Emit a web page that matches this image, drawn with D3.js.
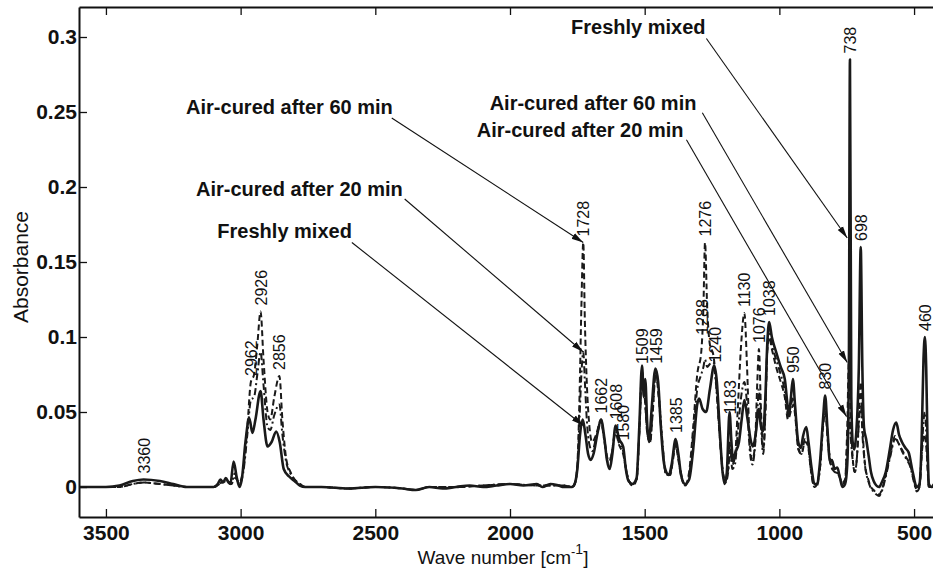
<!DOCTYPE html>
<html>
<head>
<meta charset="utf-8">
<script src="https://cdn.jsdelivr.net/npm/d3@7"></script>
<style>
  body { margin: 0; background: #fff; }
  text { font-family: "Liberation Sans", Arial, sans-serif; fill: #111; }
</style>
</head>
<body>
<svg id="chart" width="933" height="571"></svg>
<script>
// FTIR spectra: [wave number (cm^-1), absorbance]
const freshlyMixed = [
  [3600,0.000],[3550,0.000],[3500,0.000],[3450,0.001],[3400,0.004],[3360,0.005],[3300,0.004],[3250,0.002],
  [3200,0.000],[3150,0.000],[3100,0.000],[3085,0.002],[3075,0.005],[3065,0.003],[3055,0.006],[3045,0.003],
  [3038,0.002],[3026,0.017],[3014,0.006],[3004,0.000],[2995,0.006],[2982,0.030],[2968,0.046],[2956,0.036],
  [2945,0.045],[2926,0.064],[2915,0.045],[2900,0.027],[2885,0.030],[2868,0.037],[2855,0.030],[2840,0.012],
  [2820,0.007],[2800,0.004],[2780,0.001],[2760,0.000],[2700,0.000],[2600,-0.001],[2500,0.000],[2400,-0.001],
  [2350,-0.002],[2300,0.000],[2250,-0.001],[2200,0.000],[2150,0.001],[2100,0.000],[2050,0.001],[2000,0.002],
  [1950,0.001],[1900,0.002],[1880,0.000],[1850,0.002],[1820,0.001],[1800,0.000],[1770,0.000],[1760,0.002],
  [1750,0.012],[1740,0.035],[1730,0.045],[1720,0.035],[1710,0.022],[1700,0.018],[1690,0.022],[1675,0.036],
  [1662,0.045],[1650,0.033],[1640,0.018],[1630,0.012],[1620,0.022],[1608,0.041],[1595,0.032],[1580,0.027],
  [1570,0.012],[1560,0.004],[1545,0.002],[1530,0.006],[1520,0.040],[1510,0.081],[1503,0.060],[1498,0.072],
  [1490,0.040],[1484,0.030],[1475,0.050],[1460,0.079],[1450,0.070],[1440,0.040],[1430,0.018],[1420,0.010],
  [1410,0.008],[1400,0.015],[1385,0.032],[1375,0.022],[1365,0.008],[1350,0.002],[1335,0.005],[1320,0.025],
  [1305,0.055],[1298,0.059],[1285,0.052],[1272,0.050],[1258,0.065],[1242,0.081],[1232,0.070],[1222,0.040],
  [1212,0.012],[1203,0.002],[1195,0.010],[1185,0.050],[1178,0.030],[1172,0.017],[1165,0.022],[1150,0.030],
  [1140,0.045],[1130,0.058],[1118,0.045],[1105,0.030],[1098,0.027],[1088,0.035],[1077,0.052],[1068,0.040],
  [1061,0.037],[1052,0.060],[1045,0.095],[1038,0.110],[1028,0.100],[1012,0.090],[995,0.080],[980,0.072],
  [970,0.055],[965,0.047],[958,0.058],[950,0.072],[942,0.055],[930,0.030],[920,0.026],[912,0.034],
  [900,0.040],[892,0.030],[880,0.012],[870,0.002],[862,0.002],[850,0.015],[838,0.045],[830,0.061],
  [822,0.040],[812,0.017],[805,0.018],[795,0.012],[785,0.013],[775,0.006],[766,0.000],[756,0.002],
  [748,0.015],[742,0.080],[738,0.285],[733,0.060],[728,0.030],[722,0.025],[715,0.035],[705,0.080],
  [698,0.160],[692,0.080],[686,0.040],[678,0.032],[668,0.020],[660,0.010],[650,0.004],[640,0.001],
  [630,0.000],[620,0.003],[605,0.010],[590,0.025],[578,0.038],[566,0.043],[556,0.035],[545,0.030],
  [532,0.026],[520,0.023],[505,0.010],[490,0.000],[480,0.002],[472,0.030],[465,0.085],[460,0.100],
  [455,0.080],[450,0.030],[445,0.002],[435,0.000],[420,0.003],[400,0.000]
];

const airCured20 = [
  [3600,0.000],[3500,0.000],[3450,0.000],[3400,0.002],[3360,0.003],[3300,0.002],[3250,0.001],[3200,0.000],
  [3100,0.000],[3070,0.003],[3050,0.004],[3035,0.002],[3022,0.009],[3005,0.002],[2990,0.010],[2975,0.035],
  [2962,0.058],[2950,0.060],[2938,0.075],[2926,0.090],[2915,0.068],[2900,0.040],[2890,0.038],[2875,0.048],
  [2856,0.055],[2845,0.035],[2830,0.016],[2815,0.009],[2800,0.005],[2780,0.002],[2760,0.000],[2700,0.000],
  [2600,-0.001],[2500,0.000],[2400,-0.001],[2350,-0.002],[2300,0.000],[2200,0.000],[2100,0.001],[2000,0.002],
  [1900,0.001],[1800,0.001],[1770,0.000],[1760,0.002],[1750,0.013],[1742,0.045],[1735,0.075],[1728,0.090],
  [1722,0.070],[1715,0.045],[1705,0.028],[1695,0.024],[1680,0.033],[1662,0.043],[1650,0.031],[1635,0.016],
  [1625,0.020],[1608,0.037],[1595,0.029],[1580,0.024],[1565,0.008],[1545,0.001],[1530,0.005],[1520,0.036],
  [1510,0.077],[1500,0.062],[1490,0.036],[1480,0.030],[1470,0.052],[1459,0.077],[1448,0.062],[1435,0.032],
  [1420,0.008],[1405,0.009],[1395,0.020],[1385,0.030],[1375,0.020],[1360,0.005],[1350,0.001],[1335,0.008],
  [1320,0.035],[1305,0.065],[1290,0.075],[1282,0.080],[1276,0.085],[1268,0.080],[1258,0.082],[1245,0.083],
  [1235,0.068],[1222,0.036],[1210,0.010],[1200,0.003],[1190,0.010],[1183,0.030],[1175,0.012],[1165,0.015],
  [1155,0.035],[1142,0.060],[1130,0.070],[1120,0.055],[1110,0.025],[1100,0.015],[1090,0.028],[1082,0.050],
  [1076,0.065],[1068,0.040],[1060,0.022],[1052,0.050],[1045,0.092],[1038,0.105],[1028,0.095],[1012,0.085],
  [995,0.075],[980,0.064],[968,0.048],[955,0.056],[948,0.060],[940,0.048],[930,0.027],[918,0.022],
  [905,0.032],[895,0.030],[882,0.010],[870,0.000],[860,0.001],[848,0.015],[838,0.042],[830,0.055],
  [820,0.033],[810,0.016],[795,0.010],[780,0.009],[766,0.002],[756,0.004],[748,0.030],[742,0.047],
  [736,0.035],[728,0.018],[720,0.010],[712,0.020],[704,0.045],[698,0.055],[690,0.030],[682,0.014],
  [670,0.004],[660,-0.001],[650,-0.003],[640,-0.005],[630,-0.006],[620,-0.003],[605,0.007],[590,0.019],
  [570,0.032],[560,0.030],[545,0.024],[530,0.019],[515,0.014],[500,0.003],[490,-0.003],[480,0.000],
  [470,0.030],[460,0.050],[452,0.025],[445,0.000],[420,0.000],[400,0.000]
];

const airCured60 = [
  [3600,0.000],[3500,0.000],[3450,0.000],[3400,0.002],[3360,0.003],[3300,0.002],[3250,0.001],[3200,0.000],
  [3100,0.000],[3070,0.003],[3050,0.004],[3035,0.002],[3020,0.006],[3005,0.003],[2990,0.012],[2975,0.040],
  [2962,0.070],[2950,0.075],[2938,0.095],[2926,0.117],[2915,0.085],[2900,0.050],[2890,0.045],[2875,0.060],
  [2856,0.074],[2845,0.045],[2830,0.018],[2815,0.010],[2800,0.005],[2780,0.002],[2760,0.000],[2700,0.000],
  [2600,-0.001],[2500,0.000],[2400,-0.001],[2350,-0.002],[2300,0.000],[2200,0.000],[2100,0.001],[2000,0.002],
  [1900,0.001],[1800,0.001],[1770,0.000],[1760,0.002],[1750,0.015],[1742,0.060],[1735,0.120],[1728,0.163],
  [1722,0.110],[1715,0.070],[1705,0.040],[1695,0.030],[1680,0.035],[1662,0.045],[1650,0.032],[1635,0.018],
  [1625,0.020],[1608,0.036],[1595,0.028],[1580,0.022],[1565,0.008],[1545,0.001],[1530,0.005],[1520,0.035],
  [1510,0.075],[1500,0.060],[1490,0.035],[1480,0.030],[1470,0.050],[1459,0.076],[1448,0.060],[1435,0.030],
  [1420,0.008],[1405,0.008],[1395,0.018],[1385,0.028],[1375,0.018],[1360,0.004],[1350,0.001],[1335,0.010],
  [1320,0.040],[1305,0.075],[1290,0.090],[1282,0.120],[1276,0.163],[1268,0.120],[1258,0.095],[1245,0.088],
  [1235,0.070],[1222,0.035],[1210,0.010],[1200,0.004],[1190,0.012],[1183,0.025],[1175,0.015],[1165,0.020],
  [1155,0.050],[1142,0.095],[1130,0.116],[1120,0.080],[1110,0.030],[1100,0.018],[1090,0.030],[1082,0.070],
  [1076,0.092],[1068,0.050],[1060,0.025],[1052,0.050],[1045,0.090],[1038,0.100],[1028,0.092],[1012,0.080],
  [995,0.070],[980,0.060],[968,0.045],[955,0.052],[948,0.055],[940,0.045],[930,0.025],[918,0.022],
  [905,0.030],[895,0.028],[882,0.010],[870,0.000],[860,0.002],[848,0.015],[838,0.040],[830,0.050],
  [820,0.030],[810,0.015],[795,0.010],[780,0.008],[766,0.003],[756,0.005],[748,0.040],[742,0.083],
  [736,0.050],[728,0.020],[720,0.010],[712,0.020],[704,0.050],[698,0.070],[690,0.035],[682,0.015],
  [670,0.005],[660,0.000],[650,-0.002],[640,-0.004],[630,-0.005],[620,-0.002],[605,0.008],[590,0.020],
  [570,0.034],[560,0.030],[545,0.025],[530,0.020],[515,0.015],[500,0.004],[490,-0.002],[480,0.000],
  [470,0.025],[460,0.035],[452,0.020],[445,0.000],[420,0.000],[400,0.000]
];

const xTicks = [3500, 3000, 2500, 2000, 1500, 1000, 500];
const yTicks = [0, 0.05, 0.1, 0.15, 0.2, 0.25, 0.3];
const yTickLabels = ["0", "0.05", "0.1", "0.15", "0.2", "0.25", "0.3"];

// Wave numbers marked on the spectra
const peakLabels = [3360, 2962, 2926, 2856, 1728, 1662, 1608, 1580, 1509, 1459, 1385,
                    1288, 1276, 1240, 1183, 1130, 1076, 1038, 950, 830, 738, 698, 460];

// Callouts: text anchored (end) at [wave number, absorbance], arrow into the spectrum
const calloutTexts   = ["Air-cured after 60 min", "Air-cured after 20 min", "Freshly mixed",
                        "Freshly mixed", "Air-cured after 60 min", "Air-cured after 20 min"];
const calloutAnchors = [[2435, 0.249], [2398, 0.194], [2587, 0.166],
                        [1274, 0.302], [1308, 0.2515], [1356, 0.2335]];
const calloutStarts  = [[2439, 0.246], [2391, 0.192], [2587, 0.163],
                        [1271, 0.299], [1286, 0.2495], [1345, 0.2315]];
const calloutTargets = [[1728, 0.163], [1728, 0.090], [1728, 0.041],
                        [748, 0.166], [748, 0.083], [751, 0.047]];

const svg = d3.select("#chart");
const plot = { left: 79, right: 941, top: 7, bottom: 517 };

const x = d3.scaleLinear().domain([3600, 400]).range([plot.left, plot.right]);
const y = d3.scaleLinear().domain([-0.02, 0.32]).range([plot.bottom, plot.top]);

const defs = svg.append("defs");
defs.append("clipPath").attr("id", "plotClip")
  .append("rect")
  .attr("x", plot.left).attr("y", plot.top)
  .attr("width", plot.right - plot.left).attr("height", plot.bottom - plot.top);

defs.append("marker")
  .attr("id", "arrowHead")
  .attr("viewBox", "0 0 12 8")
  .attr("refX", 12).attr("refY", 4)
  .attr("markerWidth", 12).attr("markerHeight", 8)
  .attr("markerUnits", "userSpaceOnUse")
  .attr("orient", "auto")
  .append("path").attr("d", "M0,0.8 L12,4 L0,7.2 Z").attr("fill", "#111");

// Spectra
const line = d3.line()
  .x(d => x(d[0]))
  .y(d => y(d[1]))
  .curve(d3.curveMonotoneX);

const seriesList = [
  { data: airCured20, dash: "7,3,2,3", width: 2.0 },
  { data: airCured60, dash: "6,3.5", width: 2.0 },
  { data: freshlyMixed, dash: null, width: 2.6 }
];

const lines = svg.append("g").attr("clip-path", "url(#plotClip)");
seriesList.forEach(s => {
  lines.append("path")
    .datum(s.data)
    .attr("d", line)
    .attr("fill", "none")
    .attr("stroke", "#1a1a1a")
    .attr("stroke-width", s.width)
    .attr("stroke-linejoin", "round")
    .attr("stroke-dasharray", s.dash);
});

// Axes (inward ticks, boxed frame)
const xAxis = d3.axisBottom(x).tickValues(xTicks).tickFormat(d3.format("d"))
  .tickSizeInner(-8).tickSizeOuter(0).tickPadding(8);
const xAxisTop = d3.axisTop(x).tickValues(xTicks).tickFormat("")
  .tickSizeInner(-8).tickSizeOuter(0);
const yAxis = d3.axisLeft(y).tickValues(yTicks).tickFormat((d, i) => yTickLabels[i])
  .tickSizeInner(-8).tickSizeOuter(0).tickPadding(2);

const gx = svg.append("g").attr("transform", `translate(0,${plot.bottom})`).call(xAxis);
const gxt = svg.append("g").attr("transform", `translate(0,${plot.top})`).call(xAxisTop);
const gy = svg.append("g").attr("transform", `translate(${plot.left},0)`).call(yAxis);

[gx, gxt, gy].forEach(g => {
  g.select(".domain").attr("stroke", "#111").attr("stroke-width", 2);
  g.selectAll(".tick line").attr("stroke", "#111").attr("stroke-width", 1.3);
  g.selectAll(".tick text")
    .attr("fill", "#111")
    .style("font-family", "'Liberation Sans', Arial, sans-serif")
    .style("font-size", "21px")
    .style("font-weight", "bold");
});

// Axis titles
svg.append("text")
  .attr("x", 503).attr("y", 564)
  .attr("text-anchor", "middle")
  .style("font-size", "19px")
  .html('Wave number [cm<tspan dy="-8" font-size="13px">-</tspan><tspan dy="-2" font-size="14px">1</tspan><tspan dy="10">]</tspan>');

svg.append("text")
  .attr("transform", `translate(28,${(plot.top + plot.bottom) / 2 + 5}) rotate(-90)`)
  .attr("text-anchor", "middle")
  .style("font-size", "21px")
  .text("Absorbance");

// Peak labels, placed just above the highest spectrum at each wave number
function valueAt(series, w) {
  for (let i = 0; i < series.length - 1; i++) {
    const a = series[i], b = series[i + 1];
    if (w <= a[0] && w >= b[0]) {
      const t = (a[0] - w) / (a[0] - b[0]);
      return a[1] + t * (b[1] - a[1]);
    }
  }
  return 0;
}
const allSeries = [freshlyMixed, airCured20, airCured60];

svg.append("g").selectAll("text")
  .data(peakLabels)
  .join("text")
  .attr("transform", w => {
    const top = d3.max(allSeries, s => valueAt(s, w));
    return `translate(${x(w) + 6},${y(top) - 6}) rotate(-90)`;
  })
  .attr("text-anchor", "start")
  .style("font-size", "16px")
  .text(d => d);

// Callouts
const callouts = svg.append("g");
calloutTexts.forEach((t, i) => {
  callouts.append("text")
    .attr("x", x(calloutAnchors[i][0]))
    .attr("y", y(calloutAnchors[i][1]))
    .attr("text-anchor", "end")
    .style("font-size", "20px")
    .style("font-weight", "bold")
    .text(t);
  callouts.append("line")
    .attr("x1", x(calloutStarts[i][0])).attr("y1", y(calloutStarts[i][1]))
    .attr("x2", x(calloutTargets[i][0])).attr("y2", y(calloutTargets[i][1]))
    .attr("stroke", "#111").attr("stroke-width", 1.1)
    .attr("marker-end", "url(#arrowHead)");
});
</script>
</body>
</html>
